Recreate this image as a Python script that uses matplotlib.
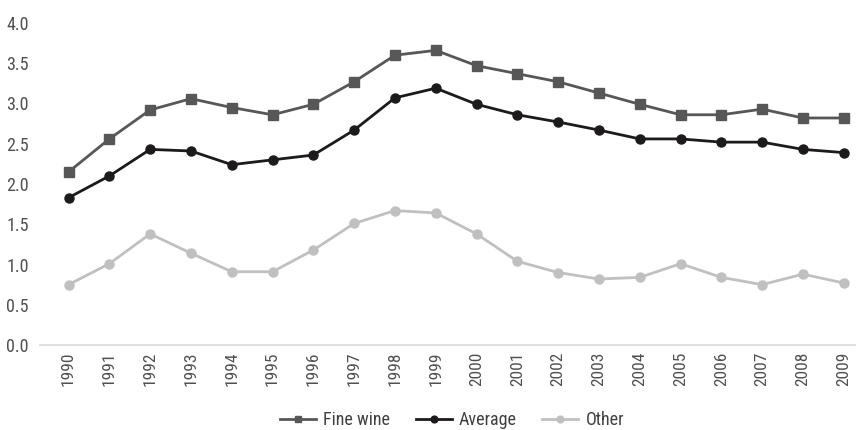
import numpy as np
import matplotlib.pyplot as plt
from matplotlib import font_manager

years = [str(y) for y in range(1990, 2010)]
fine_wine = [2.15, 2.56, 2.92, 3.06, 2.95, 2.86, 2.99, 3.27, 3.60, 3.66,
             3.47, 3.37, 3.27, 3.13, 2.99, 2.86, 2.86, 2.93, 2.82, 2.82]
average = [1.83, 2.10, 2.43, 2.41, 2.24, 2.30, 2.36, 2.67, 3.07, 3.19,
           2.99, 2.86, 2.77, 2.67, 2.56, 2.56, 2.52, 2.52, 2.43, 2.39]
other = [0.75, 1.01, 1.38, 1.14, 0.91, 0.91, 1.18, 1.51, 1.67, 1.64,
         1.38, 1.04, 0.90, 0.82, 0.84, 1.01, 0.84, 0.75, 0.88, 0.77]
yticks = [0.0, 0.5, 1.0, 1.5, 2.0, 2.5, 3.0, 3.5, 4.0]

names = {f.name for f in font_manager.fontManager.ttflist}
fam = "DejaVu Sans"
for cand in ["Liberation Sans Narrow", "Roboto Condensed", "Open Sans Condensed"]:
    if cand in names:
        fam = cand
        break
plt.rcParams['font.family'] = [fam, 'DejaVu Sans']
plt.rcParams['font.stretch'] = 'condensed'

fig = plt.figure(figsize=(8.56, 4.30), dpi=100)
ax = fig.add_axes([40/856, 1 - 345/430, 1 - 40/856, (345 - 23)/430])

x = np.arange(len(years))
ax.plot(x, fine_wine, color="#575757", lw=2, marker="s", ms=6.5, label="Fine wine", clip_on=False)
ax.plot(x, average, color="#1c1a1b", lw=2, marker="o", ms=6.5, label="Average", clip_on=False)
ax.plot(x, other, color="#c0c0c0", lw=2, marker="o", ms=6.5, label="Other", clip_on=False)

ax.set_xlim(-0.7, 19.3)
ax.set_ylim(0, 4)
ax.set_yticks(yticks)
ax.set_yticklabels([f"{v:.1f}" for v in yticks])
ax.set_xticks(x)
ax.set_xticklabels(years, rotation=90)
ax.tick_params(axis='y', length=0, labelsize=13, labelcolor="#505050", pad=8)
ax.tick_params(axis='x', length=0, labelsize=12.5, labelcolor="#505050", pad=5)
for s in ["top", "right", "left"]:
    ax.spines[s].set_visible(False)
ax.spines["bottom"].set_color("#d9d9d9")
ax.spines["bottom"].set_linewidth(1.2)

ax.legend(loc="center", bbox_to_anchor=(0.505, -0.233), ncol=3, frameon=False,
          fontsize=13, handlelength=2.0, columnspacing=1.4, handletextpad=0.4,
          markerscale=0.75, labelcolor="#404040")

fig.savefig("out.png", dpi=100)
